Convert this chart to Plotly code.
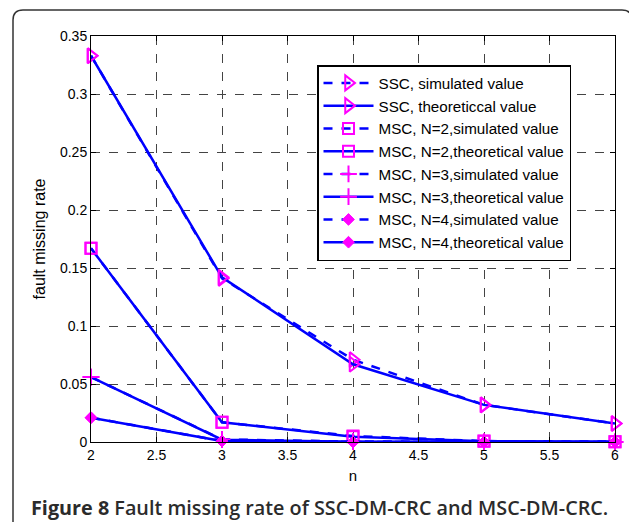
import plotly.graph_objects as go

# ---- data ----
n_values = [2, 3, 4, 5, 6]
ssc_sim = [0.333, 0.141, 0.071, 0.032, 0.016]
ssc_theo = [0.333, 0.142, 0.067, 0.032, 0.016]
msc2_sim = [0.167, 0.017, 0.0052, 0.0008, 0.0003]
msc2_theo = [0.167, 0.017, 0.0046, 0.0007, 0.0003]
msc3_sim = [0.056, 0.0022, 0.0004, 0.0001, 0.0]
msc3_theo = [0.056, 0.0020, 0.0003, 0.0001, 0.0]
msc4_sim = [0.021, 0.0009, 0.0001, 0.0, 0.0]
msc4_theo = [0.021, 0.0008, 0.0001, 0.0, 0.0]

series_names = [
    "SSC, simulated value",
    "SSC, theoreticcal value",
    "MSC, N=2,simulated value",
    "MSC, N=2,theoretical value",
    "MSC, N=3,simulated value",
    "MSC, N=3,theoretical value",
    "MSC, N=4,simulated value",
    "MSC, N=4,theoretical value",
]
series_values = [ssc_sim, ssc_theo, msc2_sim, msc2_theo,
                 msc3_sim, msc3_theo, msc4_sim, msc4_theo]

x_tickvals = [2, 2.5, 3, 3.5, 4, 4.5, 5, 5.5, 6]
x_ticktext = ["2", "2.5", "3", "3.5", "4", "4.5", "5", "5.5", "6"]
y_tickvals = [0, 0.05, 0.1, 0.15, 0.2, 0.25, 0.3, 0.35]
y_ticktext = ["0", "0.05", "0.1", "0.15", "0.2", "0.25", "0.3", "0.35"]

# ---- styles ----
BLUE = "#0000ff"
MAG = "#ff00ff"
marker_styles = [
    dict(symbol="triangle-right-open", size=13, color=MAG, line=dict(color=MAG, width=2)),
    dict(symbol="triangle-right-open", size=13, color=MAG, line=dict(color=MAG, width=2)),
    dict(symbol="square-open", size=11, color=MAG, line=dict(color=MAG, width=2)),
    dict(symbol="square-open", size=11, color=MAG, line=dict(color=MAG, width=2)),
    dict(symbol="cross-thin-open", size=12, color=MAG, line=dict(color=MAG, width=2)),
    dict(symbol="cross-thin-open", size=12, color=MAG, line=dict(color=MAG, width=2)),
    dict(symbol="diamond", size=9, color=MAG, line=dict(color=MAG, width=1)),
    dict(symbol="diamond", size=9, color=MAG, line=dict(color=MAG, width=1)),
]
dashes = ["dash", "solid"] * 4

fig = go.Figure()
for i, (name, vals) in enumerate(zip(series_names, series_values)):
    fig.add_trace(go.Scatter(
        x=n_values, y=vals, name=name, mode="lines+markers",
        line=dict(color=BLUE, width=2.5, dash=dashes[i]),
        marker=marker_styles[i], cliponaxis=False,
    ))

# page body has an 8px margin: work in reference pixels, shifted by OFF
OFF = 8
W, H = 637 - OFF, 522 - OFF
L, R, T, B = 91, 615, 36, 442
pw, ph = R - L, B - T

def px(x):
    return (x - L) / pw

def py(y):
    return (B - y) / ph

# outer rounded frame
fx0, fx1, fy0, fy1, rad = 13, 632, 10, 540, 10
path = (
    f"M {px(fx0)} {py(fy1)} L {px(fx0)} {py(fy0 + rad)} "
    f"Q {px(fx0)} {py(fy0)} {px(fx0 + rad)} {py(fy0)} "
    f"L {px(fx1 - rad)} {py(fy0)} "
    f"Q {px(fx1)} {py(fy0)} {px(fx1)} {py(fy0 + rad)} "
    f"L {px(fx1)} {py(fy1)}"
)

axis_font = dict(family="Liberation Sans, Arial, sans-serif", size=14, color="#000")

fig.update_layout(
    width=W, height=H,
    margin=dict(l=L - OFF, r=637 - R, t=T - OFF, b=522 - B),
    paper_bgcolor="white", plot_bgcolor="white",
    font=axis_font,
    showlegend=True,
    legend=dict(
        x=px(317), y=py(65), xanchor="left", yanchor="top",
        bgcolor="white", bordercolor="black", borderwidth=1.5,
        font=dict(family="Liberation Sans, Arial, sans-serif", size=15.2, color="#000"),
        traceorder="normal", itemwidth=50,
    ),
    shapes=[dict(type="path", xref="paper", yref="paper", path=path,
                 line=dict(color="#333", width=1.5), layer="above")],
    annotations=[dict(
        text="<b>Figure 8</b> Fault missing rate of SSC-DM-CRC and MSC-DM-CRC.",
        xref="paper", yref="paper", x=px(319), y=py(507),
        xanchor="center", yanchor="middle", showarrow=False,
        font=dict(family="Open Sans, sans-serif", size=19.8, color="#2b2b2b", weight=600),
    )],
)

fig.update_xaxes(
    range=[2, 6], tickvals=x_tickvals, ticktext=x_ticktext,
    showline=True, linecolor="black", linewidth=1, mirror="ticks",
    ticks="inside", ticklen=5, tickcolor="black",
    showgrid=True, gridcolor="#444", gridwidth=1, griddash="dash",
    zeroline=False,
    title=dict(text="n", standoff=8,
               font=dict(family="Liberation Sans, Arial, sans-serif", size=15, color="#000")),
)
fig.update_yaxes(
    range=[0, 0.35], tickvals=y_tickvals, ticktext=y_ticktext,
    showline=True, linecolor="black", linewidth=1, mirror="ticks",
    ticks="inside", ticklen=5, tickcolor="black",
    showgrid=True, gridcolor="#444", gridwidth=1, griddash="dash",
    zeroline=False,
    title=dict(text="fault missing rate", standoff=10,
               font=dict(family="Liberation Sans, Arial, sans-serif", size=16, color="#000")),
)

fig.write_html("out.html")
